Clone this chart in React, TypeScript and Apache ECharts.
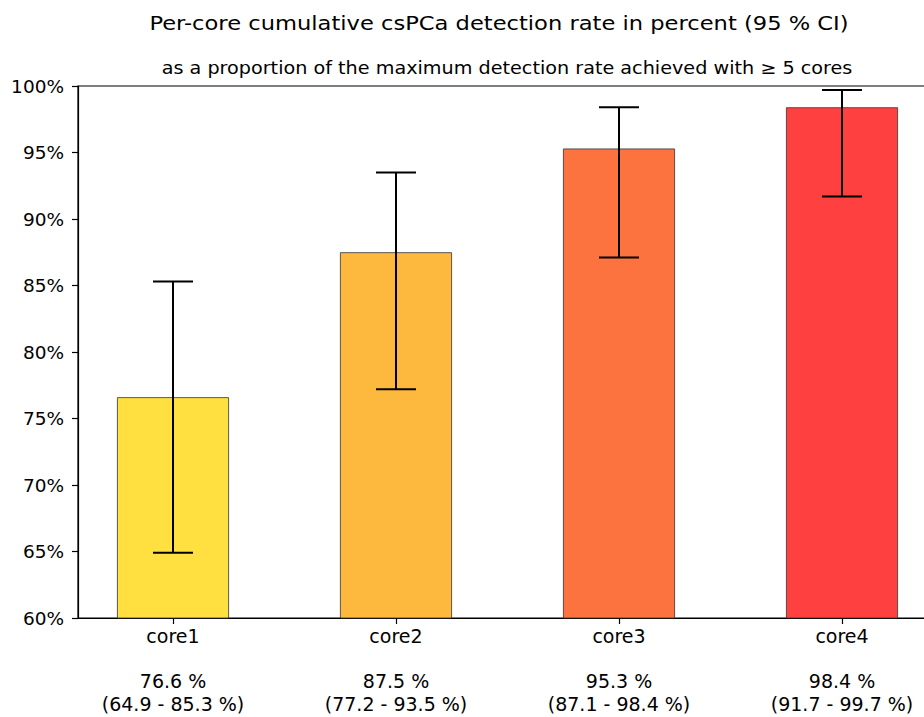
import React, { useEffect, useRef } from "react";
import * as echarts from "echarts";

const categories = ["core1", "core2", "core3", "core4"];
const rates = [76.6, 87.5, 95.3, 98.4];
const ciLow = [64.9, 77.2, 87.1, 91.7];
const ciHigh = [85.3, 93.5, 98.4, 99.7];
const barColors = ["#FFE040", "#FDB93E", "#FD7340", "#FF4040"];
const yTicks = [60, 65, 70, 75, 80, 85, 90, 95, 100];
const titleText = "Per-core cumulative csPCa detection rate in percent (95 % CI)";
const subtitleText = "as a proportion of the maximum detection rate achieved with \u2265 5 cores";

const FONT = "DejaVu Sans";

export default function App() {
  const ref = useRef<HTMLDivElement>(null);
  useEffect(() => {
    document.body.style.margin = "0";
    const chart = echarts.init(ref.current!, null, { renderer: "svg" });
    const xIdx = categories.map((_, i) => i);
    chart.setOption({
      animation: false,
      backgroundColor: "#ffffff",
      textStyle: { fontFamily: FONT },
      grid: {
        left: 78,
        top: 86,
        width: 859,
        height: 532,
        outerBoundsMode: "none",
        containLabel: false,
        show: true,
        borderColor: "#000",
        borderWidth: 1.2,
        backgroundColor: "transparent",
      },
      graphic: [
        {
          type: "text",
          x: 499,
          y: 23,
          scaleX: 1.13,
          style: {
            text: titleText,
            fontFamily: FONT,
            fontSize: 20,
            fill: "#000",
            textAlign: "center",
            textVerticalAlign: "middle",
          },
        },
        {
          type: "text",
          x: 507,
          y: 68,
          scaleX: 1.13,
          style: {
            text: subtitleText,
            fontFamily: FONT,
            fontSize: 17,
            fill: "#000",
            textAlign: "center",
            textVerticalAlign: "middle",
          },
        },
      ],
      xAxis: {
        type: "value",
        min: -0.426,
        max: 3.426,
        splitLine: { show: false },
        axisLine: { show: true, onZero: false, lineStyle: { color: "#000", width: 1.2 } },
        axisTick: {
          show: true,
          customValues: xIdx,
          length: 6,
          lineStyle: { color: "#000", width: 1.2 },
        },
        axisLabel: {
          show: true,
          customValues: xIdx,
          margin: 7,
          color: "#000",
          fontFamily: FONT,
          fontSize: 19,
          lineHeight: 22.5,
          verticalAlign: "top",
          formatter: (v: number) => {
            const i = Math.round(v);
            return `${categories[i]}\n\n${rates[i].toFixed(1)} %\n(${ciLow[i].toFixed(1)} - ${ciHigh[i].toFixed(1)} %)`;
          },
        },
      },
      yAxis: {
        type: "value",
        min: 60,
        max: 100,
        interval: 5,
        splitLine: { show: false },
        axisLine: { show: true, onZero: false, lineStyle: { color: "#000", width: 1.2 } },
        axisTick: { show: true, length: 6, lineStyle: { color: "#000", width: 1.2 } },
        axisLabel: {
          color: "#000",
          fontFamily: FONT,
          fontSize: 18.5,
          margin: 14,
          customValues: yTicks,
          formatter: (v: number) => `${v}%`,
        },
      },
      series: [
        {
          type: "bar",
          barWidth: 112,
          clip: true,
          z: 2,
          data: rates.map((r, i) => ({
            value: [i, r],
            itemStyle: { color: barColors[i], borderColor: "#333", borderWidth: 0.8 },
          })),
        },
        {
          type: "custom",
          clip: true,
          z: 5,
          data: rates.map((_, i) => [i, ciLow[i], ciHigh[i]]),
          renderItem: (params: any, api: any) => {
            const x = api.value(0);
            const lo = api.coord([x, api.value(1)]);
            const hi = api.coord([x, api.value(2)]);
            const half = 20;
            const style = { stroke: "#000", lineWidth: 2 };
            return {
              type: "group",
              children: [
                { type: "line", shape: { x1: lo[0], y1: lo[1], x2: hi[0], y2: hi[1] }, style },
                { type: "line", shape: { x1: lo[0] - half, y1: lo[1], x2: lo[0] + half, y2: lo[1] }, style },
                { type: "line", shape: { x1: hi[0] - half, y1: hi[1], x2: hi[0] + half, y2: hi[1] }, style },
              ],
            };
          },
        },
      ],
    });
    return () => chart.dispose();
  }, []);
  return <div ref={ref} style={{ width: 924, height: 717 }} />;
}
